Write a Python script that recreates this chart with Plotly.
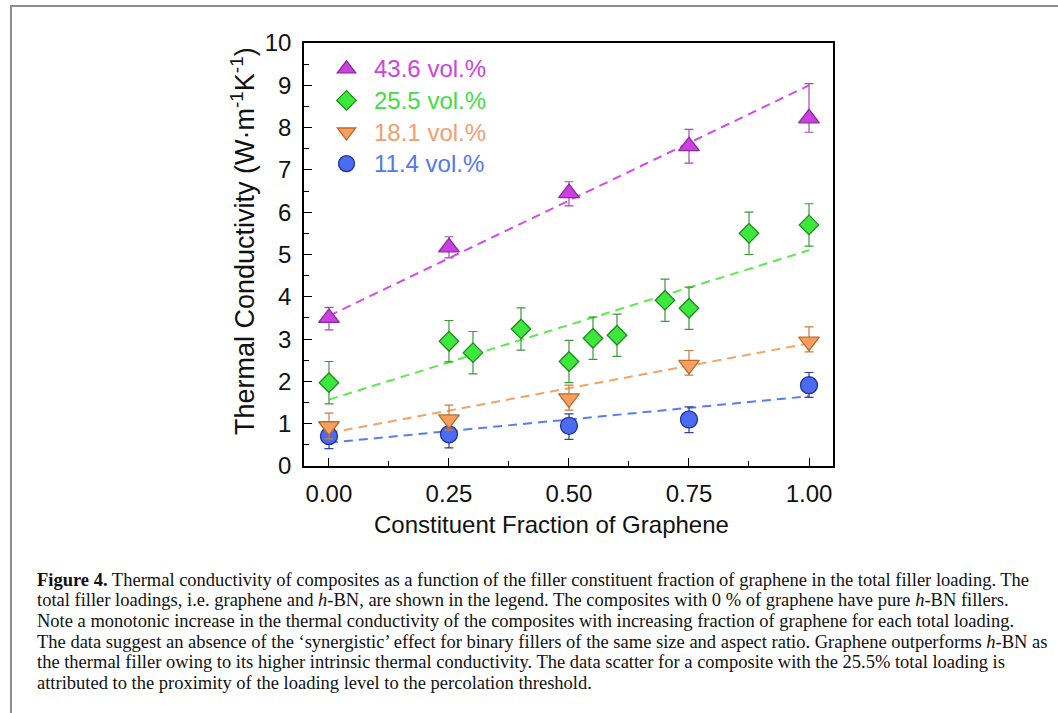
import plotly.graph_objects as go

W, H = 1058, 713
L, R, T, B = 304, 833, 43, 466  # plot area in px

def px(x):
    return (x - L) / (R - L)

def py(y):
    return (B - y) / (B - T)

# ---------------- data ----------------
labels = ["11.4 vol.%", "18.1 vol.%", "25.5 vol.%", "43.6 vol.%"]

x_114 = [0.0, 0.25, 0.5, 0.75, 1.0]
y_114 = [0.71, 0.75, 0.95, 1.10, 1.91]
e_114_up = [0.3, 0.3, 0.28, 0.3, 0.3]
e_114_dn = [0.3, 0.32, 0.32, 0.31, 0.29]

x_181 = [0.0, 0.25, 0.5, 0.75, 1.0]
y_181 = [0.94, 1.10, 1.60, 2.39, 2.94]
e_181_up = [0.31, 0.34, 0.31, 0.34, 0.35]
e_181_dn = [0.3, 0.25, 0.28, 0.24, 0.24]

x_255 = [0.0, 0.25, 0.30, 0.40, 0.50, 0.55, 0.60, 0.70, 0.75, 0.875, 1.0]
y_255 = [1.97, 2.95, 2.68, 3.24, 2.47, 3.02, 3.09, 3.92, 3.73, 5.50, 5.70]
e_255 = [0.5, 0.49, 0.5, 0.5, 0.5, 0.5, 0.5, 0.5, 0.5, 0.5, 0.5]

x_436 = [0.0, 0.25, 0.5, 0.75, 1.0]
y_436 = [3.50, 5.17, 6.45, 7.56, 8.22]
e_436_up = [0.25, 0.25, 0.27, 0.40, 0.82]
e_436_dn = [0.28, 0.25, 0.30, 0.40, 0.33]

# linear fit lines (endpoints)
fit_x = [0.0, 1.0]
fit_114 = [0.55, 1.65]
fit_181 = [0.78, 2.90]
fit_255 = [1.57, 5.10]
fit_436 = [3.55, 9.00]

x_ticks = [0.0, 0.25, 0.5, 0.75, 1.0]
x_ticklabels = ["0.00", "0.25", "0.50", "0.75", "1.00"]
y_ticks = list(range(0, 11))

caption_lines = [
    "<b>Figure 4.</b> Thermal conductivity of composites as a function of the filler constituent fraction of graphene in the total filler loading. The",
    "total filler loadings, i.e. graphene and <i>h</i>-BN, are shown in the legend. The composites with 0 % of graphene have pure <i>h</i>-BN fillers.",
    "Note a monotonic increase in the thermal conductivity of the composites with increasing fraction of graphene for each total loading.",
    "The data suggest an absence of the ‘synergistic’ effect for binary fillers of the same size and aspect ratio. Graphene outperforms <i>h</i>-BN as",
    "the thermal filler owing to its higher intrinsic thermal conductivity. The data scatter for a composite with the 25.5% total loading is",
    "attributed to the proximity of the loading level to the percolation threshold.",
]

# ---------------- styles ----------------
styles = {
    "11.4": dict(fill="#4A6BF2", edge="#22319A", err="#2E3FA0", line="#5A7CF0", text="#5577EE", symbol="circle", size=17),
    "18.1": dict(fill="#F5A060", edge="#C0682A", err="#D07A3A", line="#F2A468", text="#F0A070", symbol="triangle-down", size=18),
    "25.5": dict(fill="#3CE83C", edge="#1E8A1E", err="#3A9A3A", line="#5CEA4C", text="#44DD44", symbol="diamond", size=15),
    "43.6": dict(fill="#CC3FE2", edge="#8A2A9C", err="#A64AB8", line="#D24CEA", text="#CC44DD", symbol="triangle-up", size=18),
}

SANS = "Liberation Sans, Arial"

fig = go.Figure()

fits = [("11.4", fit_114), ("18.1", fit_181), ("25.5", fit_255), ("43.6", fit_436)]
for key, fy in fits:
    s = styles[key]
    fig.add_trace(go.Scatter(x=fit_x, y=fy, mode="lines", showlegend=False,
                             line=dict(color=s["line"], width=2, dash="9px,6px"),
                             hoverinfo="skip"))

series = [
    ("11.4", labels[0], x_114, y_114, e_114_up, e_114_dn),
    ("18.1", labels[1], x_181, y_181, e_181_up, e_181_dn),
    ("25.5", labels[2], x_255, y_255, e_255, e_255),
    ("43.6", labels[3], x_436, y_436, e_436_up, e_436_dn),
]
for key, name, xs, ys, eu, ed in series:
    s = styles[key]
    fig.add_trace(go.Scatter(
        x=xs, y=ys, mode="markers",
        name=f'<span style="color:{s["text"]};font-size:24px">{name}</span>',
        marker=dict(symbol=s["symbol"], size=s["size"], color=s["fill"],
                    line=dict(color=s["edge"], width=1.3)),
        error_y=dict(type="data", array=eu, arrayminus=ed, symmetric=False,
                     color=s["err"], thickness=1.2, width=4.5),
    ))

axis_common = dict(showline=True, linecolor="black", linewidth=1.5, mirror=True,
                   ticks="inside", ticklen=8, tickwidth=1.3, tickcolor="black",
                   showgrid=False, zeroline=False,
                   tickfont=dict(family=SANS, size=24, color="#111111"))

fig.update_xaxes(range=[-0.052, 1.05], tickvals=x_ticks, ticktext=x_ticklabels,
                 minor=dict(dtick=0.125, tick0=0, ticks="inside", ticklen=5, tickwidth=1.2, tickcolor="black"),
                 ticklabelstandoff=5, **axis_common)
fig.update_yaxes(range=[0, 10], tickvals=y_ticks,
                 minor=dict(dtick=0.5, tick0=0, ticks="inside", ticklen=5, tickwidth=1.2, tickcolor="black"),
                 ticklabelstandoff=6, **axis_common)

annotations = [
    dict(x=px(551), y=py(524), xref="paper", yref="paper", showarrow=False,
         text="Constituent Fraction of Graphene", xanchor="center", yanchor="middle",
         font=dict(family=SANS, size=24, color="#111111")),
    dict(x=px(243), y=py(241), xref="paper", yref="paper", showarrow=False,
         text="Thermal Conductivity (W·m<sup>-1</sup>K<sup>-1</sup>)", textangle=-90,
         xanchor="center", yanchor="middle",
         font=dict(family=SANS, size=27, color="#111111")),
]
y0 = 579.5
for i, line in enumerate(caption_lines):
    annotations.append(dict(x=px(35), y=py(y0 + i * 20.7), xref="paper", yref="paper",
                            showarrow=False, text=line, xanchor="left", yanchor="middle",
                            font=dict(family="Liberation Serif, Times New Roman", size=18.5, color="#111111")))

shapes = [
    dict(type="rect", xref="paper", yref="paper", x0=px(11), y0=py(6), x1=px(1075), y1=py(730),
         line=dict(color="#8C8C8C", width=2), fillcolor="rgba(0,0,0,0)", layer="below"),
]

fig.update_layout(
    width=W, height=H,
    margin=dict(l=L, r=W - R, t=T, b=H - B, pad=0),
    paper_bgcolor="white", plot_bgcolor="white",
    showlegend=True,
    legend=dict(x=px(319), y=py(48), xanchor="left", yanchor="top",
                traceorder="reversed", bgcolor="rgba(0,0,0,0)",
                font=dict(family=SANS, size=22),
                itemwidth=45, itemsizing="trace", tracegroupgap=0),
    annotations=annotations,
    shapes=shapes,
)

fig.write_html("out.html")
